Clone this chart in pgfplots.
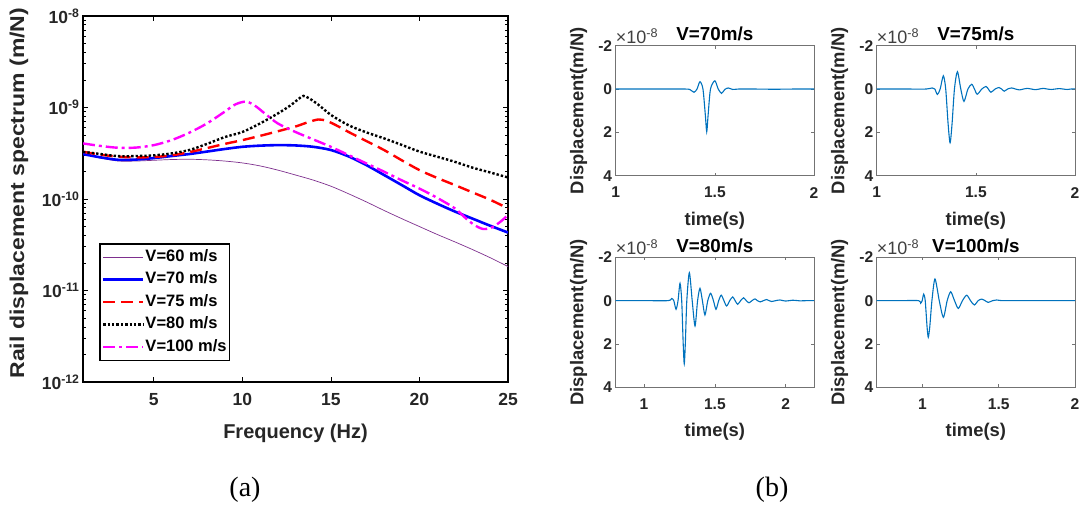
\documentclass[border=0pt]{standalone}
\usepackage{fontspec}
\setmainfont{Liberation Sans}
\newfontfamily\tnr{Liberation Serif}
\usepackage{pgfplots}
\pgfplotsset{compat=1.18}
\definecolor{v60}{RGB}{126,47,142}
\definecolor{mblue}{RGB}{0,114,189}
\definecolor{mmag}{RGB}{255,0,255}

\pgfplotsset{
  /pgf/number format/assume math mode=true,
  sub/.style 2 args={
    at={(#1pt,#2pt)}, anchor=south west, scale only axis,
    width=198.3pt, height=130pt,
    y dir=reverse, ymin=-2, ymax=4, ytick={-2,0,2,4}, yticklabels={-2,0,2,4},
    xtick={1,1.5,2}, xticklabels={1,1.5,2},
    axis line style={black!55, line width=0.7pt},
    tick style={black!55, line width=0.6pt}, major tick length=3pt,
    tick align=inside,
    every tick label/.append style={font=\fontsize{15.6}{18}\selectfont\bfseries, text=black!85},
    xticklabel style={yshift=-8pt},
    xlabel={time(s)}, ylabel={Displacement(m/N)},
    label style={font=\fontsize{18.4}{20}\selectfont\bfseries, text=black!85},
    xlabel style={at={(axis description cs:0.5,-0.345)}, anchor=center},
    ylabel style={at={(axis description cs:-0.187,0.5)}, anchor=center},
    every axis title shift=0pt,
    title style={at={(axis description cs:0.5,1.04)}, anchor=base,
      font=\fontsize{18.8}{20}\selectfont\bfseries},
  },
  wave/.style={mblue, line width=1.1pt, smooth, tension=0.45},
}

\begin{document}
\begin{tikzpicture}
\path[use as bounding box] (0pt,0pt) rectangle (1081pt,511pt);

% (a) spectrum
\begin{axis}[
  at={(83pt,129pt)}, anchor=south west, scale only axis,
  width=425pt, height=366pt,
  ymode=log, xmin=1, xmax=25, ymin=1e-12, ymax=1e-8,
  xtick={5,10,15,20,25}, xticklabels={5,10,15,20,25},
  ytick={1e-12,1e-11,1e-10,1e-9,1e-8},
  yticklabels={10\textsuperscript{-12},10\textsuperscript{-11},10\textsuperscript{-10},10\textsuperscript{-9},10\textsuperscript{-8}},
  minor ytick={2e-12,3e-12,4e-12,5e-12,6e-12,7e-12,8e-12,9e-12,
    2e-11,3e-11,4e-11,5e-11,6e-11,7e-11,8e-11,9e-11,
    2e-10,3e-10,4e-10,5e-10,6e-10,7e-10,8e-10,9e-10,
    2e-9,3e-9,4e-9,5e-9,6e-9,7e-9,8e-9,9e-9},
  axis line style={line width=1.6pt},
  tick style={black, line width=0.8pt}, tick align=inside,
  major tick length=5pt, minor tick length=3pt,
  every tick label/.append style={font=\fontsize{17.5}{19}\selectfont\bfseries, text=black!85},
  xticklabel style={yshift=-8pt},
  xlabel={Frequency (Hz)}, ylabel={Rail displacement spectrum (m/N)},
  label style={font=\fontsize{20}{22}\selectfont\bfseries, text=black!85},
  xlabel style={at={(axis description cs:0.5,-0.139)}, anchor=center},
  ylabel style={at={(axis description cs:-0.1506,0.516)}, anchor=center, xscale=1.15},
  legend style={at={(0.038,0.057)}, anchor=south west, draw=black, line width=1.5pt,
    fill=white, inner sep=2pt,
    font=\fontsize{16.5}{18}\selectfont\bfseries,
    nodes={text height=12pt, text depth=3.5pt, inner ysep=3.5pt, inner xsep=1pt}},
  legend cell align=left,
  legend image code/.code={\draw[#1] (2pt,0pt) -- (42pt,0pt);},
]
\addplot[v60, line width=0.7pt, smooth] coordinates {
 (1,3.1e-10) (2,2.8e-10) (3,2.6e-10) (4,2.6e-10) (5,2.65e-10) (6,2.7e-10)
 (7,2.72e-10) (8,2.68e-10) (9,2.6e-10) (10,2.48e-10) (11,2.3e-10) (12,2.07e-10)
 (13,1.83e-10) (14,1.61e-10) (15,1.38e-10) (16,1.14e-10) (17,9.3e-11) (18,7.5e-11)
 (19,6.1e-11) (20,5.0e-11) (21,4.1e-11) (22,3.4e-11) (23,2.8e-11) (24,2.28e-11) (25,1.83e-11)};
\addlegendentry{V=60 m/s}
\addplot[blue, line width=2.6pt, smooth] coordinates {
 (1,3.1e-10) (2,2.85e-10) (3,2.68e-10) (4,2.7e-10) (5,2.8e-10) (6,2.95e-10)
 (7,3.1e-10) (8,3.3e-10) (9,3.52e-10) (10,3.72e-10) (11,3.83e-10) (12,3.88e-10)
 (13,3.85e-10) (14,3.72e-10) (15,3.43e-10) (16,2.92e-10) (17,2.35e-10) (18,1.83e-10)
 (19,1.42e-10) (20,1.1e-10) (21,8.9e-11) (22,7.3e-11) (23,6.1e-11) (24,5.1e-11) (25,4.3e-11)};
\addlegendentry{V=70 m/s}
\addplot[red, line width=2.4pt, dash pattern=on 12pt off 6pt, smooth] coordinates {
 (1,3.28e-10) (2,3.05e-10) (3,2.9e-10) (4,2.85e-10) (5,2.88e-10) (6,3.0e-10)
 (7,3.25e-10) (8,3.6e-10) (9,4.0e-10) (10,4.4e-10) (11,4.9e-10) (12,5.5e-10)
 (13,6.2e-10) (13.7,6.9e-10) (14.3,7.4e-10) (14.8,7.1e-10) (15.5,6.1e-10) (16,5.4e-10)
 (17,4.3e-10) (18,3.43e-10) (19,2.65e-10) (20,2.07e-10) (21,1.7e-10) (22,1.42e-10)
 (23,1.18e-10) (24,9.8e-11) (25,7.9e-11)};
\addlegendentry{V=75 m/s}
\addplot[black, line width=2.4pt, dash pattern=on 2.4pt off 2pt, smooth] coordinates {
 (1,3.28e-10) (2,3.1e-10) (3,2.94e-10) (4,2.95e-10) (5,3.0e-10) (6,3.15e-10)
 (7,3.43e-10) (8,4.0e-10) (9,4.75e-10) (10,5.4e-10) (11,6.7e-10) (12,8.6e-10)
 (12.7,1.05e-9) (13.2,1.25e-9) (13.45,1.34e-9) (13.8,1.25e-9) (14.3,1.07e-9) (15,8.3e-10)
 (16,6.4e-10) (17,5.35e-10) (18,4.6e-10) (19,3.9e-10) (20,3.3e-10) (21,2.9e-10)
 (22,2.55e-10) (23,2.2e-10) (24,1.95e-10) (25,1.72e-10)};
\addlegendentry{V=80 m/s}
\addplot[mmag, line width=2.4pt, dash pattern=on 12pt off 4pt on 3pt off 4pt, smooth] coordinates {
 (1,4.05e-10) (2,3.8e-10) (3,3.63e-10) (4,3.65e-10) (5,3.88e-10) (6,4.4e-10)
 (7,5.3e-10) (8,6.7e-10) (9,9.0e-10) (9.6,1.08e-9) (10.2,1.16e-9) (10.7,1.05e-9)
 (11.3,8.5e-10) (12,6.7e-10) (13,5.4e-10) (14,4.48e-10) (15,3.72e-10) (16,3.02e-10)
 (17,2.45e-10) (18,1.99e-10) (19,1.6e-10) (20,1.3e-10) (21,1.03e-10) (22,7.9e-11)
 (22.6,6.2e-11) (23.1,5.2e-11) (23.6,4.7e-11) (24.1,4.9e-11) (24.6,5.7e-11) (25,6.7e-11)};
\addlegendentry{V=100 m/s}
\end{axis}

% (b) time histories, displacement in units of 1e-8 m/N
\begin{axis}[sub={615.7}{335.3}, xmin=1, xmax=2, title={V=70m/s}]
\addplot[wave] coordinates {
 (1,0) (1.2,0) (1.35,0) (1.375,0.03) (1.395,0.15) (1.41,0) (1.425,-0.34) (1.44,0)
 (1.452,1.2) (1.459,1.97) (1.466,1.2) (1.478,0) (1.50,-0.38) (1.517,0) (1.534,0.2)
 (1.55,0.02) (1.568,-0.05) (1.59,0.02) (1.62,0) (1.7,0) (1.8,0.01) (1.9,0) (2,0)};
\end{axis}

\begin{axis}[sub={876.7}{335.3}, xmin=1, xmax=2, title={V=75m/s}]
\addplot[wave] coordinates {
 (1,0) (1.15,0) (1.25,0) (1.28,-0.05) (1.293,0) (1.306,0.25) (1.32,0) (1.336,-0.61)
 (1.348,0) (1.360,1.6) (1.370,2.48) (1.380,1.6) (1.392,0) (1.407,-0.8) (1.424,0)
 (1.44,0.57) (1.46,0) (1.479,-0.22) (1.493,0) (1.507,0.24) (1.53,0) (1.551,-0.12)
 (1.563,0) (1.576,0.15) (1.597,0) (1.617,-0.07) (1.63,0) (1.643,0.1) (1.66,0)
 (1.681,-0.05) (1.70,0) (1.72,0.04) (1.74,0) (1.76,-0.03) (1.78,0) (1.80,0.03)
 (1.82,0) (1.84,-0.03) (1.86,0) (1.88,0.02) (1.9,0) (1.92,-0.02) (1.94,0) (1.96,0.02)
 (1.98,0) (2,-0.01)};
\end{axis}

\begin{axis}[sub={615.7}{123.7}, xmin=0.8, xmax=2.2, title={V=80m/s}]
\addplot[wave] coordinates {
 (0.8,0) (1.0,0) (1.17,0) (1.195,-0.1) (1.21,0) (1.226,0.4) (1.24,0) (1.254,-0.8)
 (1.266,0) (1.276,1.9) (1.284,2.92) (1.292,1.9) (1.302,0) (1.32,-1.29) (1.34,0)
 (1.36,1.17) (1.378,0) (1.395,-0.57) (1.412,0) (1.43,0.66) (1.45,0) (1.47,-0.34)
 (1.49,0) (1.508,0.4) (1.527,0) (1.545,-0.25) (1.564,0) (1.583,0.25) (1.605,0)
 (1.626,-0.17) (1.643,0) (1.661,0.17) (1.682,0) (1.703,-0.13) (1.722,0) (1.741,0.1)
 (1.762,0) (1.783,-0.08) (1.80,0) (1.82,0.06) (1.843,0) (1.866,-0.05) (1.883,0)
 (1.9,0.04) (1.93,0) (1.96,-0.03) (2.0,0.02) (2.05,-0.02) (2.1,0.01) (2.15,0) (2.2,0)};
\end{axis}

\begin{axis}[sub={876.7}{123.7}, xmin=0.7, xmax=2, title={V=100m/s}]
\addplot[wave] coordinates {
 (0.7,0) (0.85,0) (0.975,0) (0.988,0.12) (0.998,0) (1.008,-0.3) (1.018,0) (1.03,1.2)
 (1.038,1.69) (1.048,1.2) (1.062,0) (1.082,-1.0) (1.11,0) (1.137,0.77) (1.162,0)
 (1.185,-0.41) (1.21,0) (1.235,0.36) (1.262,0) (1.29,-0.25) (1.315,0) (1.34,0.2)
 (1.365,0) (1.388,-0.07) (1.41,0) (1.431,0.08) (1.46,0) (1.486,-0.03) (1.52,0)
 (1.6,0) (1.8,0) (2,0)};
\end{axis}

% axis multipliers
\foreach \px/\py in {615.7/467.7, 876.7/467.7, 615.7/256.1, 876.7/256.1}
  \node[anchor=base west, inner sep=0pt, text=black!75, font=\fontsize{18}{20}\selectfont]
    at (\px pt,\py pt) {×10\textsuperscript{-8}};

\node[font=\tnr\fontsize{28}{30}\selectfont] at (245pt,21pt) {(a)};
\node[font=\tnr\fontsize{28}{30}\selectfont] at (772pt,21pt) {(b)};
\end{tikzpicture}
\end{document}
